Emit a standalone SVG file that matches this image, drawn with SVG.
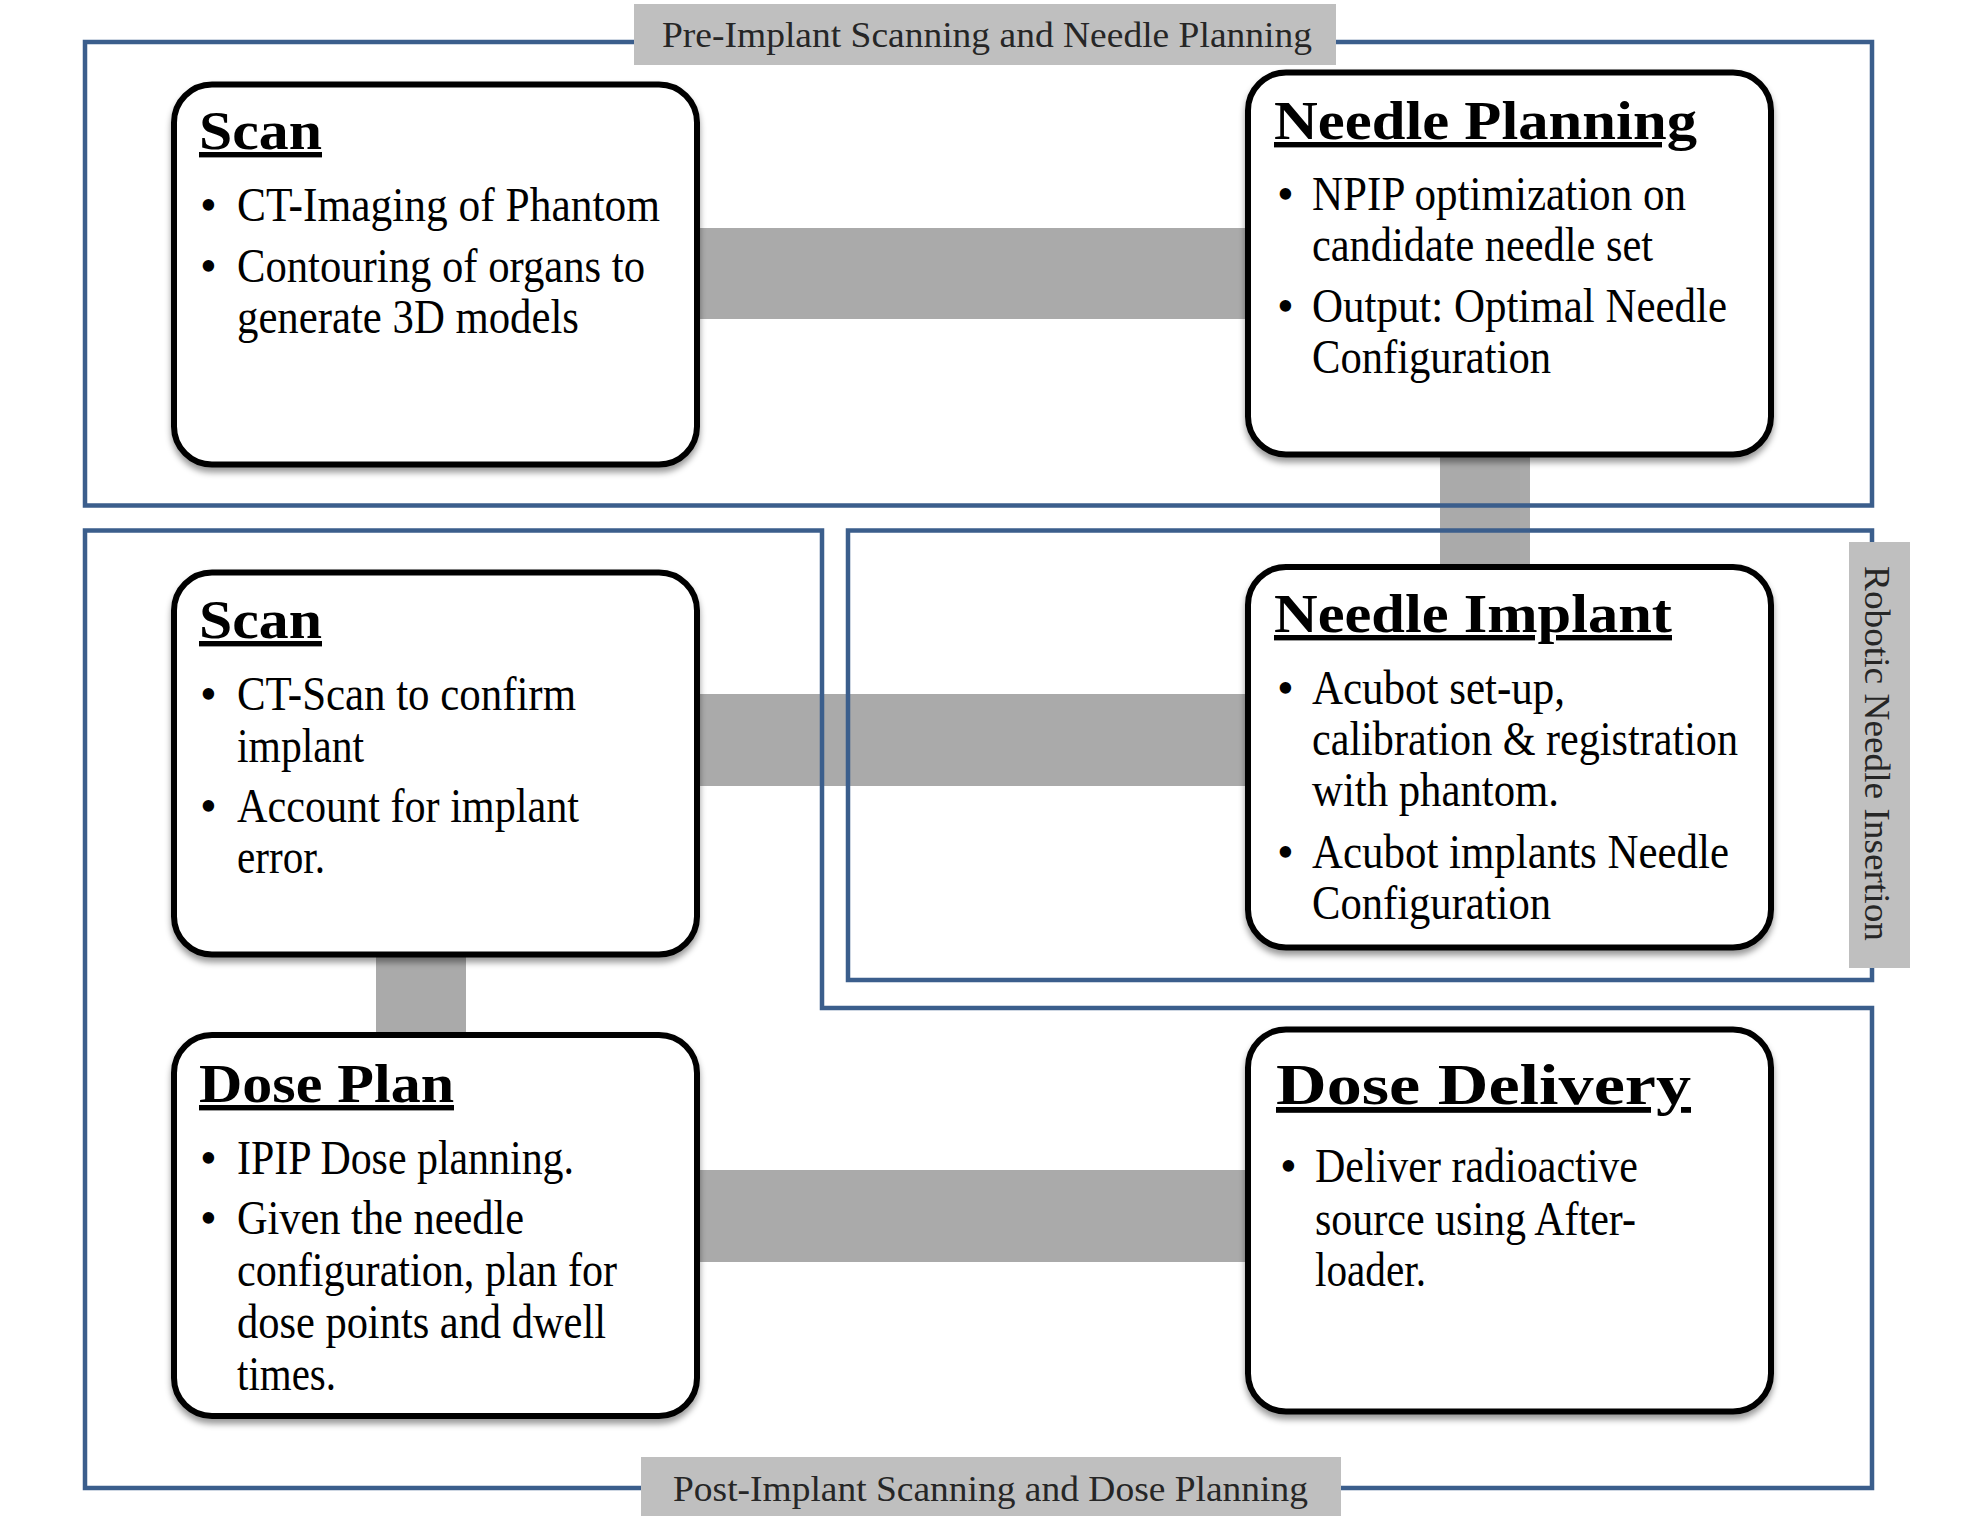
<svg xmlns="http://www.w3.org/2000/svg" width="1985" height="1532" viewBox="0 0 1985 1532">
<defs>
<filter id="sh" x="-5%" y="-5%" width="110%" height="115%">
<feDropShadow dx="0" dy="5" stdDeviation="3" flood-color="#000" flood-opacity="0.4"/>
</filter>
<style>
.frame{fill:none;stroke:#3B5E8C;stroke-width:4.5;stroke-linejoin:miter}
.box{fill:#fff;stroke:#000;stroke-width:6}
.conn{fill:#AAAAAA}
.lab{fill:#BFBFBF}
.labt{font-family:"Liberation Serif","Times New Roman",serif;font-size:35px;fill:#262626}
.title{font-family:"Liberation Serif","Times New Roman",serif;font-size:54px;font-weight:bold;text-decoration:underline;fill:#000}
.body{font-family:"Liberation Serif","Times New Roman",serif;font-size:48px;fill:#000}
</style>
</defs>
<rect width="1985" height="1532" fill="#fff"/>
<g id="connectors">
<rect class="conn" x="697" y="228" width="552" height="91"/>
<rect class="conn" x="1440" y="455" width="90" height="112"/>
<rect class="conn" x="697" y="694" width="552" height="92"/>
<rect class="conn" x="376" y="955" width="90" height="80"/>
<rect class="conn" x="697" y="1170" width="552" height="92"/>
</g>
<g id="frames">
<path class="frame" d="M85,42 H1872 V505.5 H85 Z"/>
<path class="frame" d="M848,530.5 H1872 V980 H848 Z"/>
<path class="frame" d="M85,530.5 H822 V1008 H1872 V1488 H85 Z"/>
</g>
<g id="label-pre">
<rect class="lab" x="634" y="4" width="702" height="61"/>
<text class="labt" x="662" y="47" textLength="650" lengthAdjust="spacingAndGlyphs">Pre-Implant Scanning and Needle Planning</text>
</g>
<g id="label-post">
<rect class="lab" x="641" y="1457" width="700" height="59"/>
<text class="labt" x="673" y="1501" textLength="635" lengthAdjust="spacingAndGlyphs">Post-Implant Scanning and Dose Planning</text>
</g>
<g id="label-robotic">
<rect class="lab" x="1849" y="542" width="61" height="426"/>
<text class="labt" transform="translate(1865,566) rotate(90)" x="0" y="0" textLength="375" lengthAdjust="spacingAndGlyphs">Robotic Needle Insertion</text>
</g>
<g id="node-scan-pre">
<rect class="box" x="174" y="84.5" width="523" height="380" rx="38" filter="url(#sh)"/>
<text class="title" x="199" y="149" textLength="123" lengthAdjust="spacingAndGlyphs">Scan</text>
<text class="body" x="200" y="221">•</text>
<text class="body" x="237" y="221" textLength="423" lengthAdjust="spacingAndGlyphs">CT-Imaging of Phantom</text>
<text class="body" x="200" y="282">•</text>
<text class="body" x="237" y="282" textLength="408" lengthAdjust="spacingAndGlyphs">Contouring of organs to</text>
<text class="body" x="237" y="333" textLength="342" lengthAdjust="spacingAndGlyphs">generate 3D models</text>
</g>
<g id="node-needle-planning">
<rect class="box" x="1248" y="72.5" width="523" height="382" rx="38" filter="url(#sh)"/>
<text class="title" x="1274" y="139" textLength="423" lengthAdjust="spacingAndGlyphs">Needle Planning</text>
<text class="body" x="1277" y="210">•</text>
<text class="body" x="1312" y="210" textLength="374" lengthAdjust="spacingAndGlyphs">NPIP optimization on</text>
<text class="body" x="1312" y="261" textLength="341" lengthAdjust="spacingAndGlyphs">candidate needle set</text>
<text class="body" x="1277" y="322">•</text>
<text class="body" x="1312" y="322" textLength="415" lengthAdjust="spacingAndGlyphs">Output: Optimal Needle</text>
<text class="body" x="1312" y="373" textLength="239" lengthAdjust="spacingAndGlyphs">Configuration</text>
</g>
<g id="node-scan-post">
<rect class="box" x="174" y="572.5" width="523" height="382" rx="38" filter="url(#sh)"/>
<text class="title" x="199" y="638" textLength="123" lengthAdjust="spacingAndGlyphs">Scan</text>
<text class="body" x="200" y="710">•</text>
<text class="body" x="237" y="710" textLength="339" lengthAdjust="spacingAndGlyphs">CT-Scan to confirm</text>
<text class="body" x="237" y="762" textLength="127" lengthAdjust="spacingAndGlyphs">implant</text>
<text class="body" x="200" y="822">•</text>
<text class="body" x="237" y="822" textLength="342" lengthAdjust="spacingAndGlyphs">Account for implant</text>
<text class="body" x="237" y="873" textLength="88" lengthAdjust="spacingAndGlyphs">error.</text>
</g>
<g id="node-needle-implant">
<rect class="box" x="1248" y="567" width="523" height="380.5" rx="38" filter="url(#sh)"/>
<text class="title" x="1274" y="632" textLength="398" lengthAdjust="spacingAndGlyphs">Needle Implant</text>
<text class="body" x="1277" y="704">•</text>
<text class="body" x="1312" y="704" textLength="253" lengthAdjust="spacingAndGlyphs">Acubot set-up,</text>
<text class="body" x="1312" y="755" textLength="426" lengthAdjust="spacingAndGlyphs">calibration &amp; registration</text>
<text class="body" x="1312" y="806" textLength="247" lengthAdjust="spacingAndGlyphs">with phantom.</text>
<text class="body" x="1277" y="868">•</text>
<text class="body" x="1312" y="868" textLength="417" lengthAdjust="spacingAndGlyphs">Acubot implants Needle</text>
<text class="body" x="1312" y="919" textLength="239" lengthAdjust="spacingAndGlyphs">Configuration</text>
</g>
<g id="node-dose-plan">
<rect class="box" x="174" y="1035" width="523" height="381" rx="38" filter="url(#sh)"/>
<text class="title" x="199" y="1102" textLength="255" lengthAdjust="spacingAndGlyphs">Dose Plan</text>
<text class="body" x="200" y="1174">•</text>
<text class="body" x="237" y="1174" textLength="337" lengthAdjust="spacingAndGlyphs">IPIP Dose planning.</text>
<text class="body" x="200" y="1234">•</text>
<text class="body" x="237" y="1234" textLength="287" lengthAdjust="spacingAndGlyphs">Given the needle</text>
<text class="body" x="237" y="1286" textLength="380" lengthAdjust="spacingAndGlyphs">configuration, plan for</text>
<text class="body" x="237" y="1338" textLength="369" lengthAdjust="spacingAndGlyphs">dose points and dwell</text>
<text class="body" x="237" y="1390" textLength="99" lengthAdjust="spacingAndGlyphs">times.</text>
</g>
<g id="node-dose-delivery">
<rect class="box" x="1248" y="1029.5" width="523" height="382" rx="38" filter="url(#sh)"/>
<text class="title" x="1276" y="1104" style="font-size:58px" textLength="415" lengthAdjust="spacingAndGlyphs">Dose Delivery</text>
<text class="body" x="1280" y="1182">•</text>
<text class="body" x="1315" y="1182" textLength="323" lengthAdjust="spacingAndGlyphs">Deliver radioactive</text>
<text class="body" x="1315" y="1235" textLength="321" lengthAdjust="spacingAndGlyphs">source using After-</text>
<text class="body" x="1315" y="1286" textLength="111" lengthAdjust="spacingAndGlyphs">loader.</text>
</g>
</svg>
